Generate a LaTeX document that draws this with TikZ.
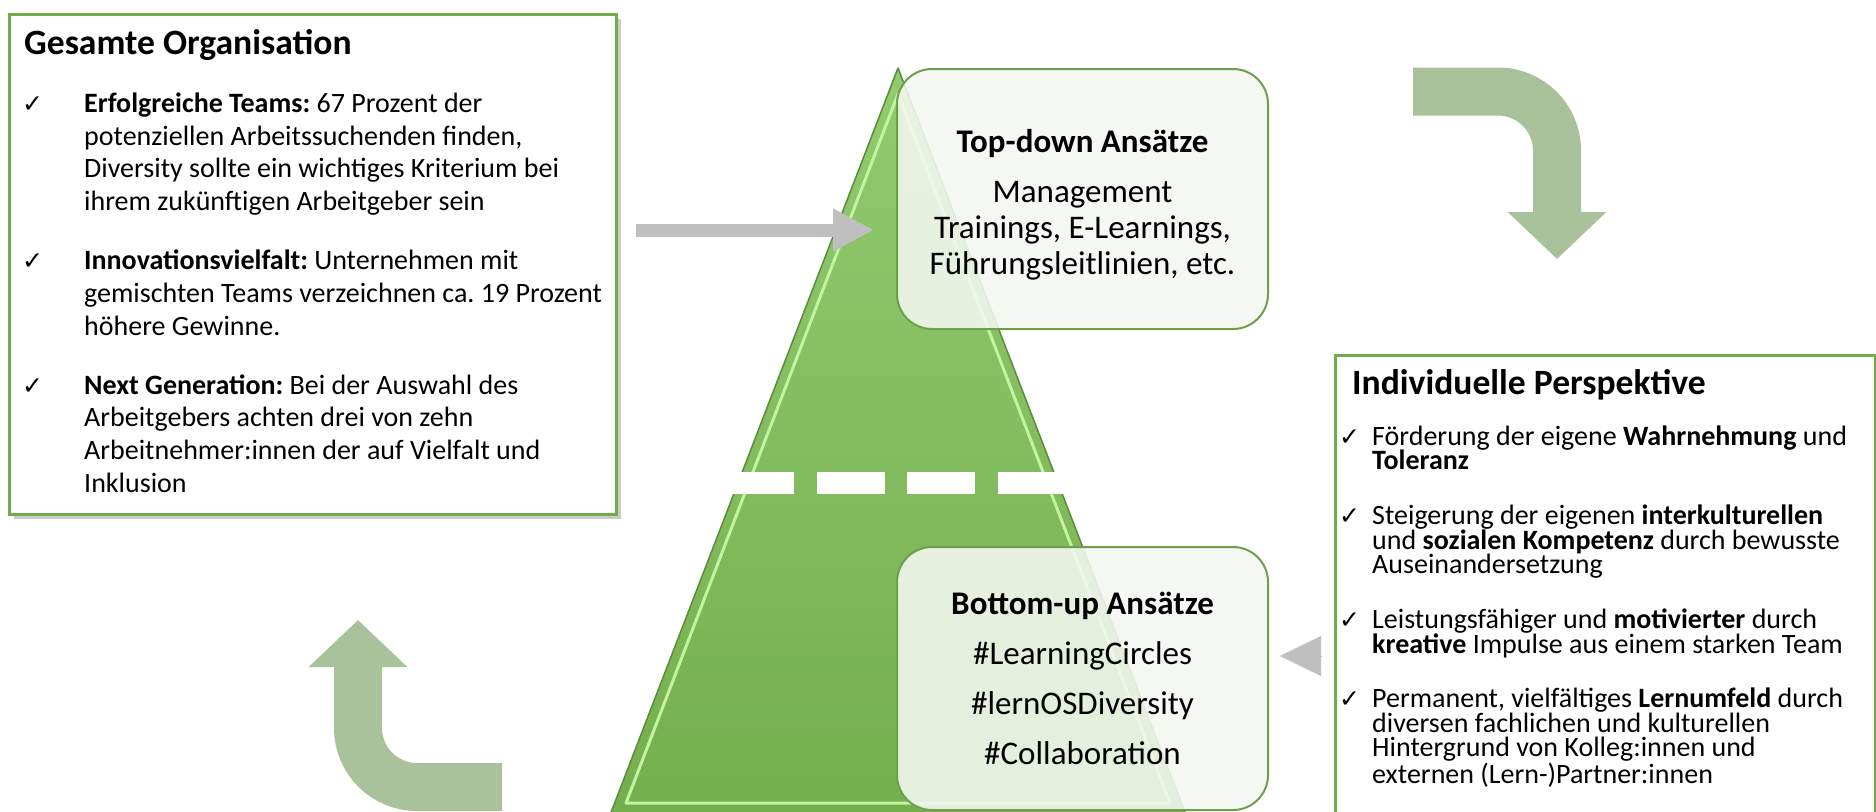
\documentclass[tikz,border=0pt]{standalone}
\usepackage{fontspec}
\setmainfont{Carlito}
\newfontfamily\checkfont{DejaVu Sans}
\usetikzlibrary{arrows.meta,positioning,shadows}
\frenchspacing

\definecolor{framegreen}{HTML}{70AD47}
\definecolor{boxedge}{HTML}{6E9F4E}
\definecolor{boxfill}{HTML}{F4F8F1}
\definecolor{bendgreen}{HTML}{A9C29B}
\definecolor{pointergrey}{HTML}{BFBFBF}
\definecolor{pyrtop}{HTML}{92CB70}
\definecolor{pyrbottom}{HTML}{74AF4E}
\definecolor{pyredge}{HTML}{5B8C3B}
\definecolor{pyrlight}{HTML}{C2F4A0}

\newcommand{\topstrut}{\rule{0pt}{24pt}}
\newcommand{\lowstrut}{\rule[-9pt]{0pt}{9pt}}

\begin{document}
\begin{tikzpicture}[x=1pt, y=-1pt,
  panel/.style={draw=framegreen, line width=2.5pt, fill=white, anchor=north west, inner sep=0pt},
  headline/.style={font=\fontsize{35.6}{40}\selectfont\bfseries, anchor=base west, inner sep=0pt},
  itemtext/.style={font=\fontsize{28}{32.8}\selectfont, align=left, anchor=north west, inner sep=0pt},
  smalltext/.style={itemtext, font=\fontsize{28}{24.5}\selectfont},
  tickmark/.style={font=\checkfont\fontsize{25}{24}\selectfont, anchor=north west, inner sep=0pt},
  approach/.style={draw=boxedge, line width=2pt, fill=boxfill, fill opacity=0.88, text opacity=1,
                   rounded corners=35pt, align=center, font=\fontsize{33}{36}\selectfont, minimum width=371pt},
  pointer/.style={draw=pointergrey, line width=13pt, -{Triangle[length=41pt, width=40pt]}},
  pointerhead/.style={draw=pointergrey, line width=0.1pt, -{Triangle[length=41pt, width=40pt]}},
  bendarrow/.style={draw=bendgreen, line width=48pt, rounded corners=59pt, -{Triangle[length=47pt, width=96pt]}}
]
\useasboundingbox (0,0) rectangle (1876,811);
\fill[white] (0,0) rectangle (1876,811);

% pyramid
\coordinate (apex) at (898,68);
\coordinate (base left) at (610,815);
\coordinate (base right) at (1186,815);
\shade[top color=pyrtop, bottom color=pyrbottom] (apex) -- (base right) -- (base left) -- cycle;
\draw[pyrlight, line width=3pt, line join=round] (898,94) -- (1170,803) -- (626,803) -- cycle;
\draw[pyredge, line width=1.5pt, line join=round] (apex) -- (base right) -- (base left) -- cycle;

\coordinate (split west) at (726,483);
\coordinate (split east) at (1080,483);
\draw[white, line width=22pt, dash pattern=on 68pt off 22.5pt] (split west) -- (split east);

% approaches
\node[approach, minimum height=260pt] (topdown) at (1082.5,199) {\rule{0pt}{35pt}\textbf{Top-down Ansätze}\\[14pt]
  Management\\Trainings, E-Learnings,\\Führungsleitlinien, etc.};
\node[approach, minimum height=263pt] (bottomup) at (1082.5,678.5) {\textbf{Bottom-up Ansätze}\\[14pt]
  \#LearningCircles\\[14pt]\#lernOSDiversity\\[14pt]\#Collaboration};

% left panel
\node[panel, minimum width=607pt, minimum height=500pt,
      drop shadow={shadow xshift=5pt, shadow yshift=-5pt, fill=black!40, opacity=0.5}] (org) at (8,13) {};
\node[headline] (orgtitle) at (24,54) {Gesamte Organisation};
\node[itemtext] (g1) at (84,88) {\topstrut\textbf{Erfolgreiche Teams:} 67 Prozent der\\
  potenziellen Arbeitssuchenden finden,\\Diversity sollte ein wichtiges Kriterium bei\\
  ihrem zukünftigen Arbeitgeber sein\lowstrut};
\node[itemtext, below=25.5pt of g1.south west, anchor=north west] (g2) {\topstrut\textbf{Innovationsvielfalt:} Unternehmen mit\\
  gemischten Teams verzeichnen ca. 19 Prozent\\höhere Gewinne.\lowstrut};
\node[itemtext, below=25.5pt of g2.south west, anchor=north west] (g3) {\topstrut\textbf{Next Generation:} Bei der Auswahl des\\
  Arbeitgebers achten drei von zehn\\Arbeitnehmer:innen der auf Vielfalt und\\Inklusion\lowstrut};
\foreach \entry in {g1,g2,g3}
  \node[tickmark] (tick-\entry) at ([xshift=-62pt]\entry.north west) {\topstrut ✓};

% right panel
\node[panel, minimum width=540pt, minimum height=458pt] (persp) at (1334,354) {};
\node[headline] (persptitle) at (1352,394) {Individuelle Perspektive};
\node[smalltext] (p1) at (1372,421) {\topstrut Förderung der eigene \textbf{Wahrnehmung} und\\
  \textbf{Toleranz}\lowstrut};
\node[smalltext, below=21.5pt of p1.south west, anchor=north west] (p2) {\topstrut Steigerung der eigenen \textbf{interkulturellen}\\
  und \textbf{sozialen Kompetenz} durch bewusste\\Auseinandersetzung\lowstrut};
\node[smalltext, below=21.5pt of p2.south west, anchor=north west] (p3) {\topstrut Leistungsfähiger und \textbf{motivierter} durch\\
  \textbf{kreative} Impulse aus einem starken Team\lowstrut};
\node[smalltext, below=21.5pt of p3.south west, anchor=north west] (p4) {\topstrut Permanent, vielfältiges \textbf{Lernumfeld} durch\\
  diversen fachlichen und kulturellen\\Hintergrund von Kolleg:innen und\\externen (Lern-)Partner:innen\lowstrut};
\foreach \entry in {p1,p2,p3,p4}
  \node[tickmark] (tick-\entry) at ([xshift=-33pt]\entry.north west) {\topstrut ✓};

% connectors
\coordinate (pointer start) at (636,230);
\draw[pointer, shorten >=22pt] (pointer start) -- (topdown.west |- pointer start);
\coordinate (head tip) at ([xshift=11pt]bottomup.east |- 0,656);
\draw[pointerhead] ([xshift=41pt]head tip) -- (head tip);

\coordinate (turn a) at (1413,91.5);
\coordinate (turn a end) at (1557,259);
\draw[bendarrow] (turn a) -| (turn a end);
\coordinate (turn b) at (502,787);
\coordinate (turn b end) at (358,620);
\draw[bendarrow] (turn b) -| (turn b end);
\end{tikzpicture}
\end{document}
